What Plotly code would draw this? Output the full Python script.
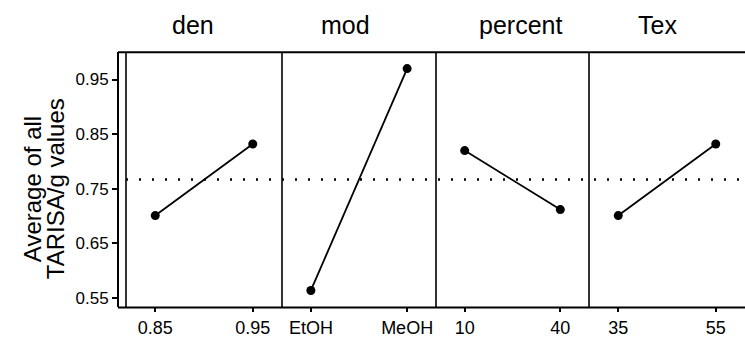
import plotly.graph_objects as go

# ---- data ----
factors = ["den", "mod", "percent", "Tex"]
den_levels = ["0.85", "0.95"]
den_means = [0.701, 0.832]
mod_levels = ["EtOH", "MeOH"]
mod_means = [0.564, 0.970]
percent_levels = ["10", "40"]
percent_means = [0.820, 0.712]
tex_levels = ["35", "55"]
tex_means = [0.701, 0.832]
grand_mean = 0.767
y_ticks = [0.55, 0.65, 0.75, 0.85, 0.95]
y_title_lines = ["Average of all", "TARISA/g values"]

levels = [den_levels, mod_levels, percent_levels, tex_levels]
means = [den_means, mod_means, percent_means, tex_means]

W, H = 745, 338
FONT = "Liberation Sans, Arial, sans-serif"

def px(x):
    return x / W

def py(y):
    return 1 - y / H

panel_edges = [126, 282, 436, 589, 745]
y_top, y_bot = 53, 312
y_axis_x = 118

fig = go.Figure()

for i, (lv, mv) in enumerate(zip(levels, means)):
    xa = "x" if i == 0 else f"x{i+1}"
    fig.add_trace(go.Scatter(
        x=lv, y=mv, xaxis=xa, yaxis="y", mode="lines+markers",
        line=dict(color="black", width=1.8),
        marker=dict(color="black", size=9),
        showlegend=False, hoverinfo="skip",
    ))

layout = dict(
    width=W, height=H,
    margin=dict(l=0, r=0, t=0, b=0),
    paper_bgcolor="white", plot_bgcolor="white",
    font=dict(family=FONT, color="black"),
    showlegend=False,
    yaxis=dict(
        domain=[py(y_bot), py(y_top)],
        range=[0.533, 1.0],
        tickvals=y_ticks, ticktext=[f"{v:.2f}" for v in y_ticks],
        anchor="free", position=px(y_axis_x),
        showline=True, linecolor="black", linewidth=2,
        ticks="outside", ticklen=5, tickwidth=1.5, tickcolor="black",
        tickfont=dict(size=17, family=FONT, color="black"),
        showgrid=False, zeroline=False,
    ),
)

for i in range(4):
    key = "xaxis" if i == 0 else f"xaxis{i+1}"
    layout[key] = dict(
        domain=[px(panel_edges[i]), px(panel_edges[i+1])],
        type="category",
        categoryorder="array", categoryarray=levels[i],
        range=[-0.3, 1.3],
        anchor="y",
        showline=False, showgrid=False, zeroline=False,
        ticks="outside", ticklen=4, tickwidth=1.5, tickcolor="black",
        tickfont=dict(size=18, family=FONT, color="black"),
    )

fig.update_layout(**layout)

shapes = []
# top and bottom borders
for yy in (y_top, y_bot):
    shapes.append(dict(type="line", xref="paper", yref="paper",
                       x0=px(y_axis_x), x1=1, y0=py(yy), y1=py(yy),
                       line=dict(color="black", width=2)))
# panel dividers
for xx in panel_edges[:-1]:
    shapes.append(dict(type="line", xref="paper", yref="paper",
                       x0=px(xx), x1=px(xx), y0=py(y_bot), y1=py(y_top),
                       line=dict(color="black", width=1.6)))
# grand mean reference line
shapes.append(dict(type="line", xref="paper", yref="y",
                   x0=px(panel_edges[0]), x1=1, y0=grand_mean, y1=grand_mean,
                   line=dict(color="black", width=2.5, dash="2px,11px")))
fig.update_layout(shapes=shapes)

annotations = []
title_x = [193, 345, 520, 657]
for name, tx in zip(factors, title_x):
    annotations.append(dict(text=name, x=px(tx), y=py(25), xref="paper", yref="paper",
                            xanchor="center", yanchor="middle", showarrow=False,
                            font=dict(size=25, family=FONT, color="black")))
for line, lx in zip(y_title_lines, [32, 55]):
    annotations.append(dict(text=line, x=px(lx), y=py(192), xref="paper", yref="paper",
                            xanchor="center", yanchor="middle", showarrow=False,
                            textangle=-90,
                            font=dict(size=24, family=FONT, color="black")))
fig.update_layout(annotations=annotations)

fig.write_html("out.html",
               config={"displayModeBar": False},
               post_script="document.body.style.margin='0';document.body.style.padding='0';")
